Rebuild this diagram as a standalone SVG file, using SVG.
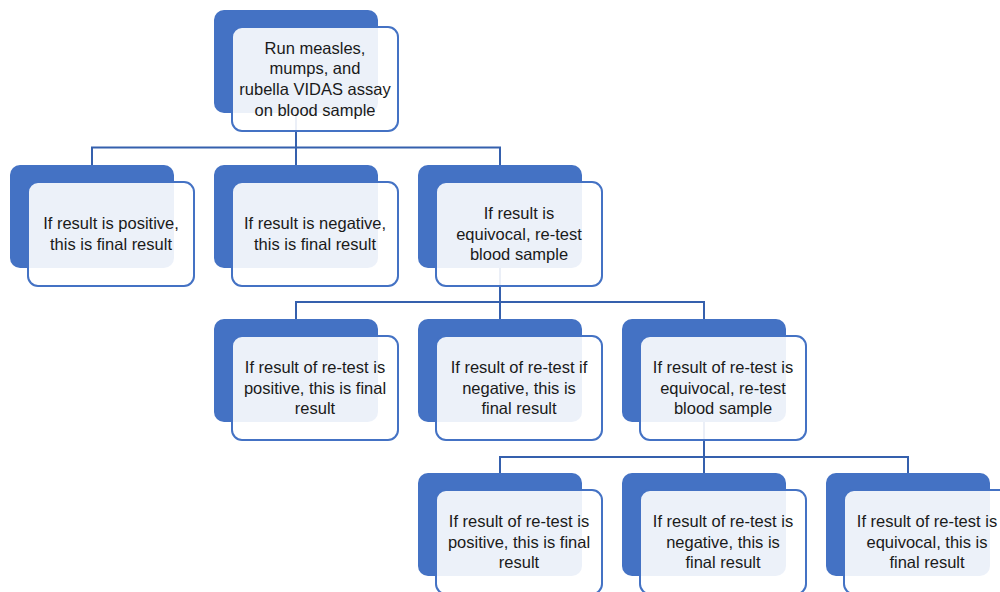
<svg xmlns="http://www.w3.org/2000/svg" width="1000" height="592" viewBox="0 0 1000 592">
<style>
.bk{fill:#4472C4;}
.fr{fill:#FFFFFF;fill-opacity:0.9;stroke:#4472C4;stroke-width:2;}
.cn{fill:none;stroke:#3560AD;stroke-width:2;}
text{font-family:"Liberation Sans",Arial,sans-serif;font-size:16.5px;fill:#1a1a1a;text-anchor:middle;}
</style>
<rect width="1000" height="592" fill="#FFFFFF"/>
<g id="connectors">
<path class="cn" d="M296,113 V147.5 M92,165 V147.5 H500 V165 M296,147.5 V165"/>
<path class="cn" d="M500,268 V302 M296,319 V302 H704 V319 M500,302 V319"/>
<path class="cn" d="M704,422 V457 M500,473 V457 H908 V473 M704,457 V473"/>
</g>
<g id="n1">
<rect class="bk" x="214" y="10" width="164" height="103" rx="10"/>
<rect class="fr" x="232" y="27" width="166" height="104" rx="10"/>
<text x="315" y="53.5"><tspan x="315">Run measles,</tspan><tspan x="315" dy="20.7">mumps, and</tspan><tspan x="315" dy="20.7">rubella VIDAS assay</tspan><tspan x="315" dy="20.7">on blood sample</tspan></text>
</g>
<g id="n2">
<rect class="bk" x="10" y="165" width="164" height="103" rx="10"/>
<rect class="fr" x="28" y="182" width="166" height="104" rx="10"/>
<text x="111" y="229.2"><tspan x="111">If result is positive,</tspan><tspan x="111" dy="20.7">this is final result</tspan></text>
</g>
<g id="n3">
<rect class="bk" x="214" y="165" width="164" height="103" rx="10"/>
<rect class="fr" x="232" y="182" width="166" height="104" rx="10"/>
<text x="315" y="229.2"><tspan x="315">If result is negative,</tspan><tspan x="315" dy="20.7">this is final result</tspan></text>
</g>
<g id="n4">
<rect class="bk" x="418" y="165" width="164" height="103" rx="10"/>
<rect class="fr" x="436" y="182" width="166" height="104" rx="10"/>
<text x="519" y="218.8"><tspan x="519">If result is</tspan><tspan x="519" dy="20.7">equivocal, re-test</tspan><tspan x="519" dy="20.7">blood sample</tspan></text>
</g>
<g id="n5">
<rect class="bk" x="214" y="319" width="164" height="103" rx="10"/>
<rect class="fr" x="232" y="336" width="166" height="104" rx="10"/>
<text x="315" y="372.8"><tspan x="315">If result of re-test is</tspan><tspan x="315" dy="20.7">positive, this is final</tspan><tspan x="315" dy="20.7">result</tspan></text>
</g>
<g id="n6">
<rect class="bk" x="418" y="319" width="164" height="103" rx="10"/>
<rect class="fr" x="436" y="336" width="166" height="104" rx="10"/>
<text x="519" y="372.8"><tspan x="519">If result of re-test if</tspan><tspan x="519" dy="20.7">negative, this is</tspan><tspan x="519" dy="20.7">final result</tspan></text>
</g>
<g id="n7">
<rect class="bk" x="622" y="319" width="164" height="103" rx="10"/>
<rect class="fr" x="640" y="336" width="166" height="104" rx="10"/>
<text x="723" y="372.8"><tspan x="723">If result of re-test is</tspan><tspan x="723" dy="20.7">equivocal, re-test</tspan><tspan x="723" dy="20.7">blood sample</tspan></text>
</g>
<g id="n8">
<rect class="bk" x="418" y="473" width="164" height="103" rx="10"/>
<rect class="fr" x="436" y="490" width="166" height="104" rx="10"/>
<text x="519" y="526.8"><tspan x="519">If result of re-test is</tspan><tspan x="519" dy="20.7">positive, this is final</tspan><tspan x="519" dy="20.7">result</tspan></text>
</g>
<g id="n9">
<rect class="bk" x="622" y="473" width="164" height="103" rx="10"/>
<rect class="fr" x="640" y="490" width="166" height="104" rx="10"/>
<text x="723" y="526.8"><tspan x="723">If result of re-test is</tspan><tspan x="723" dy="20.7">negative, this is</tspan><tspan x="723" dy="20.7">final result</tspan></text>
</g>
<g id="n10">
<rect class="bk" x="826" y="473" width="164" height="103" rx="10"/>
<rect class="fr" x="844" y="490" width="166" height="104" rx="10"/>
<text x="927" y="526.8"><tspan x="927">If result of re-test is</tspan><tspan x="927" dy="20.7">equivocal, this is</tspan><tspan x="927" dy="20.7">final result</tspan></text>
</g>
</svg>
